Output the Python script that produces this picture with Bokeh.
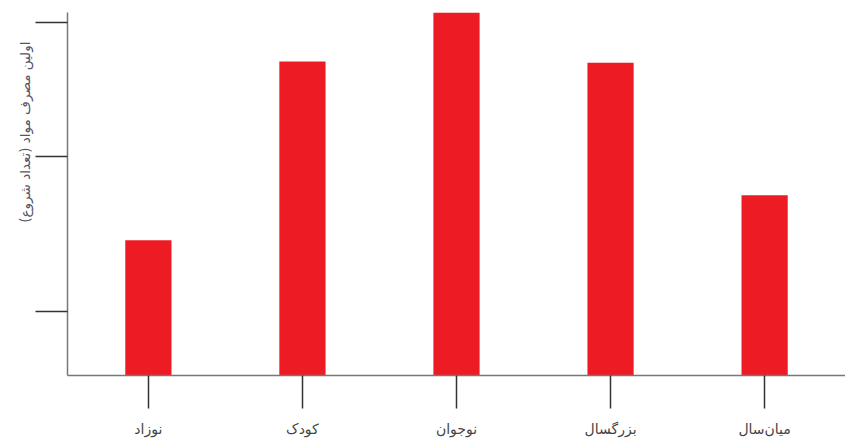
from bokeh.plotting import figure
from bokeh.models import FactorRange, Range1d, FixedTicker, CustomJSTickFormatter, ColumnDataSource, Title
from bokeh.embed import file_html
from bokeh.resources import INLINE

categories = ["نوزاد", "کودک", "نوجوان", "بزرگسال", "میان‌سال"]
values = [10.5, 24.4, 30.0, 24.3, 14.0]
y_ticks = [5, 17, 27.46]
y_label = "اولین مصرف مواد (تعداد شروع)"

src = ColumnDataSource(dict(cat=categories, val=values))

p = figure(width=845, height=439, output_backend="svg", toolbar_location=None,
           x_range=FactorRange(*categories, range_padding=0.01),
           y_range=Range1d(0, 28.2),
           min_border_left=67, min_border_right=0, min_border_top=12, min_border_bottom=60)

p.vbar(x="cat", top="val", width=0.3, source=src, fill_color="#ED1C24", line_color=None)

p.xgrid.visible = False
p.ygrid.visible = False
p.outline_line_color = None
p.background_fill_color = "white"
p.border_fill_color = "white"

for ax in (p.xaxis[0], p.yaxis[0]):
    ax.axis_line_color = "#777777"
    ax.axis_line_width = 1.5
    ax.major_tick_line_color = "#333333"
    ax.major_tick_line_width = 1.5
    ax.major_tick_in = 0
    ax.minor_tick_line_color = None

p.yaxis.major_tick_out = 32
p.yaxis.ticker = FixedTicker(ticks=y_ticks)
p.yaxis.formatter = CustomJSTickFormatter(code="return '';")
p.yaxis.major_label_standoff = 0

p.add_layout(Title(text=y_label, align="right", offset=29, standoff=6,
                   text_font="DejaVu Sans", text_font_size="13.5px",
                   text_font_style="normal", text_color="#555566"), "left")

p.xaxis.major_tick_out = 33
p.xaxis.major_label_standoff = 12
p.xaxis.major_label_text_font = "DejaVu Sans"
p.xaxis.major_label_text_font_size = "14px"
p.xaxis.major_label_text_color = "#444444"

open("out.html", "w").write(file_html(p, INLINE))
